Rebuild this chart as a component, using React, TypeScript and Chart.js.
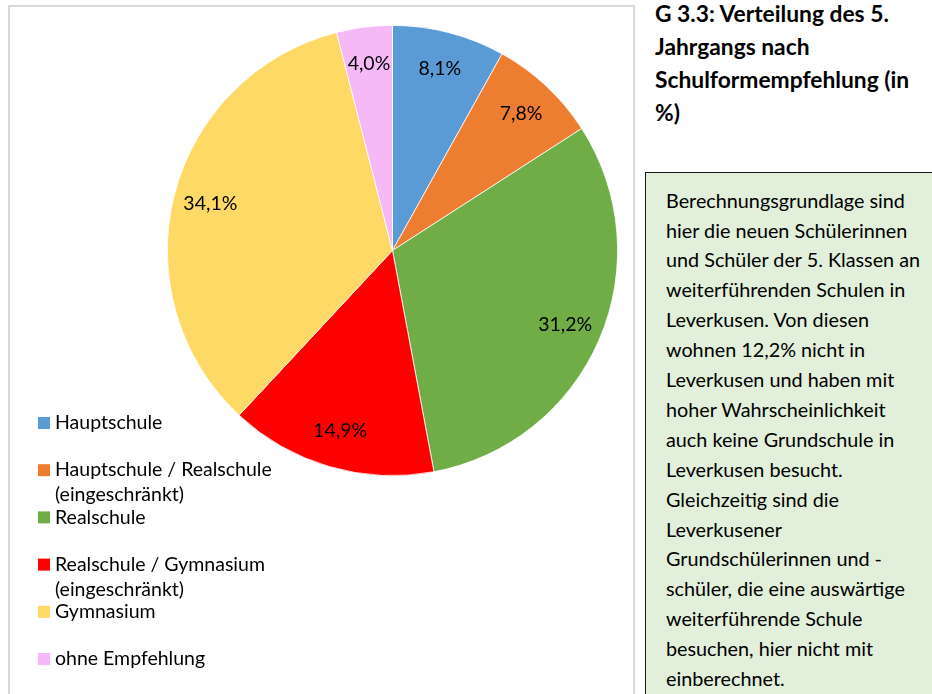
import React, { useEffect, useRef } from "react";
import { Chart, registerables } from "chart.js";

Chart.register(...registerables);

const categories = [
  "Hauptschule",
  "Hauptschule / Realschule (eingeschränkt)",
  "Realschule",
  "Realschule / Gymnasium (eingeschränkt)",
  "Gymnasium",
  "ohne Empfehlung",
];
const values = [8.1, 7.8, 31.2, 14.9, 34.1, 4.0];
const colors = ["#5b9bd5", "#ed7d31", "#70ad47", "#ff0000", "#ffd966", "#f4b9f6"];

const titleLines = ["G 3.3: Verteilung des 5.", "Jahrgangs nach", "Schulformempfehlung (in", "%)"];
const noteLines = [
  "Berechnungsgrundlage sind",
  "hier die neuen Schülerinnen",
  "und Schüler der 5. Klassen an",
  "weiterführenden Schulen in",
  "Leverkusen. Von diesen",
  "wohnen 12,2% nicht in",
  "Leverkusen und haben mit",
  "hoher Wahrscheinlichkeit",
  "auch keine Grundschule in",
  "Leverkusen besucht.",
  "Gleichzeitig sind die",
  "Leverkusener",
  "Grundschülerinnen und -",
  "schüler, die eine auswärtige",
  "weiterführende Schule",
  "besuchen, hier nicht mit",
  "einberechnet.",
];

const FONT = "Lato, 'Open Sans', sans-serif";

const labelPlugin = {
  id: "sliceLabels",
  afterDatasetsDraw(chart: any) {
    const ctx = chart.ctx;
    const meta = chart.getDatasetMeta(0);
    ctx.save();
    ctx.font = `19.5px ${FONT}`;
    ctx.fillStyle = "#000";
    ctx.textAlign = "center";
    ctx.textBaseline = "middle";
    meta.data.forEach((arc: any, i: number) => {
      const p = arc.getProps(["x", "y", "startAngle", "endAngle", "outerRadius"], true);
      const mid = (p.startAngle + p.endAngle) / 2;
      const r = p.outerRadius * 0.835;
      const v = chart.data.datasets[0].data[i] as number;
      ctx.fillText(v.toFixed(1).replace(".", ",") + "%", p.x + Math.cos(mid) * r, p.y + Math.sin(mid) * r);
    });
    ctx.restore();
  },
};

const legendPlugin = {
  id: "customLegend",
  afterDraw(chart: any) {
    const ctx = chart.ctx;
    const labels = chart.data.labels as string[];
    const bg = chart.data.datasets[0].backgroundColor as string[];
    ctx.save();
    ctx.font = `19.5px ${FONT}`;
    ctx.textBaseline = "middle";
    ctx.textAlign = "left";
    const x0 = 28;
    const y0 = 416;
    const slot = 47.2;
    const lineH = 25;
    const maxW = 245;
    labels.forEach((lab, i) => {
      const y = y0 + i * slot;
      ctx.fillStyle = bg[i];
      ctx.fillRect(x0, y - 6, 12, 12);
      ctx.fillStyle = "#000";
      const words = lab.split(" ");
      const lines: string[] = [];
      let cur = "";
      words.forEach((w) => {
        const t = cur ? cur + " " + w : w;
        if (ctx.measureText(t).width > maxW && cur) {
          lines.push(cur);
          cur = w;
        } else cur = t;
      });
      if (cur) lines.push(cur);
      lines.forEach((ln, j) => ctx.fillText(ln, x0 + 17, y + j * lineH));
    });
    ctx.restore();
  },
};

export default function App() {
  const ref = useRef<HTMLCanvasElement>(null);
  useEffect(() => {
    if (!ref.current) return;
    const chart = new Chart(ref.current, {
      type: "pie",
      data: {
        labels: categories,
        datasets: [
          {
            data: values,
            backgroundColor: colors,
            borderColor: "#ffffff",
            borderWidth: 0.8,
            hoverOffset: 0,
          },
        ],
      },
      options: {
        animation: false,
        responsive: false,
        maintainAspectRatio: false,
        layout: { padding: { left: 157, right: 15, top: 18, bottom: 247 } },
        plugins: { legend: { display: false }, tooltip: { enabled: false } },
      },
      plugins: [labelPlugin, legendPlugin],
    });
    return () => chart.destroy();
  }, []);

  return (
    <div style={{ position: "fixed", left: 0, top: 0, width: 932, height: 694, overflow: "hidden", background: "#fff", fontFamily: FONT }}>
      <div style={{ position: "absolute", left: 8, top: 5, width: 627, height: 720, border: "2px solid #d9d9d9", boxSizing: "border-box" }}>
        <canvas ref={ref} width={623} height={716} style={{ position: "absolute", left: 0, top: 0, width: 623, height: 716 }} />
      </div>
      <div style={{ position: "absolute", left: 655, top: -3.5, fontWeight: 700, fontSize: 22.8, lineHeight: "33px", color: "#000", whiteSpace: "nowrap" }}>
        {titleLines.map((t, i) => (
          <div key={i}>{t}</div>
        ))}
      </div>
      <div style={{ position: "absolute", left: 645, top: 172, width: 300, height: 540, background: "#e2efda", border: "1.5px solid #1a1a1a", boxSizing: "border-box" }}>
        <div style={{ position: "absolute", left: 20, top: 12.6, fontSize: 19.8, lineHeight: "29.9px", color: "#000", whiteSpace: "nowrap" }}>
          {noteLines.map((t, i) => (
            <div key={i}>{t}</div>
          ))}
        </div>
      </div>
    </div>
  );
}
